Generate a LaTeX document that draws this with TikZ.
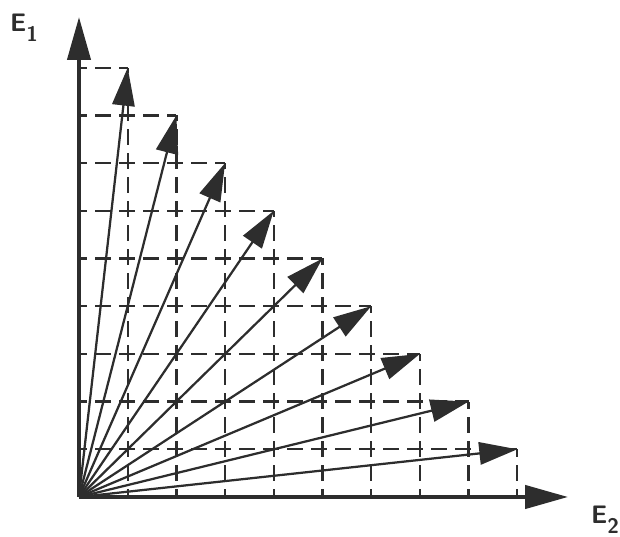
\documentclass[tikz,border=0pt]{standalone}
\usepackage{tikz}
\usetikzlibrary{positioning, arrows.meta}

\definecolor{ink}{RGB}{45,45,45}

\begin{document}
\begin{tikzpicture}[x=1.2175cm, y=1.1925cm,
    axis/.style={ink, line width=2.5pt, -{Triangle[length=1.07cm, width=0.58cm]}},
    vec/.style={ink, line width=1.6pt, -{Triangle[length=0.95cm, width=0.56cm]}},
    gridline/.style={ink, line width=1.6pt, dash pattern=on 0.38cm off 0.22cm, dash phase=0.19cm},
    axlabel/.style={ink, font=\fontsize{18}{20}\selectfont\sffamily\bfseries, inner sep=0pt}]
    \useasboundingbox (-1.622,-0.818) rectangle (11.109,10.419);

    % Origine e assi
    \coordinate (O) at (0,0);
    \coordinate (xend) at (10.04,0);
    \coordinate (yend) at (0,10.06);

    % Griglia tratteggiata a scalini
    \foreach \k in {1,...,9} {
        \pgfmathtruncatemacro{\h}{10-\k}
        \coordinate (t\k) at (\k,\h);
        \coordinate (bx\k) at (\k,0);
        \coordinate (by\h) at (0,\h);
        \draw [gridline] (bx\k) -- (t\k); % verticale
        \draw [gridline] (by\h) -- (t\k); % orizzontale
    }

    % Vettori
    \foreach \k in {1,...,9} {
        \draw [vec] (O) -- (t\k);
    }

    \draw [axis] (O) -- (xend);
    \draw [axis] (O) -- (yend);

    % Etichette
    \node [axlabel] (lab1) at (-1.13,9.83) {E\raisebox{-0.4em}{\fontsize{15}{15}\selectfont 1}};
    \node [axlabel] (lab2) at (10.80,-0.48) {E\raisebox{-0.4em}{\fontsize{15}{15}\selectfont 2}};
\end{tikzpicture}
\end{document}
